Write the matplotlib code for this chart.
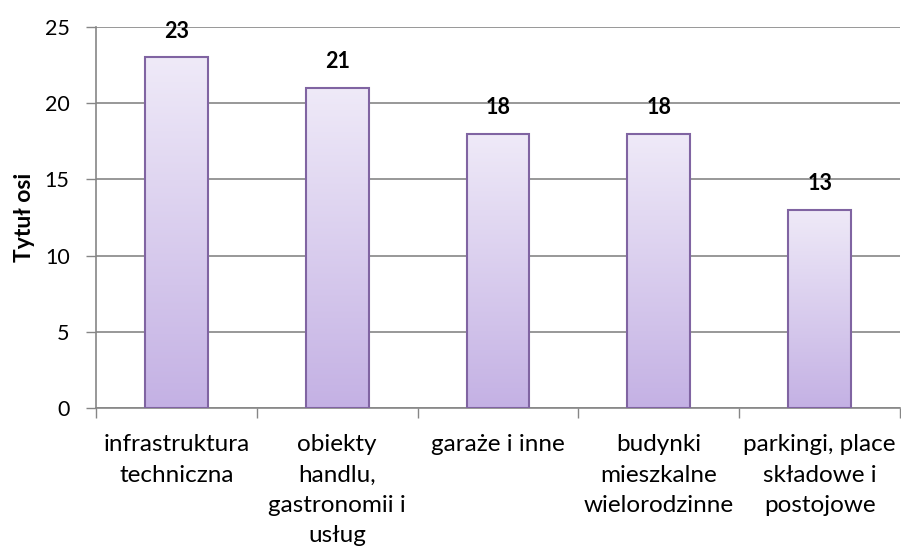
import numpy as np
import matplotlib
matplotlib.use("Agg")
import matplotlib.pyplot as plt
from matplotlib.colors import LinearSegmentedColormap

plt.rcParams["font.family"] = ["Lato", "DejaVu Sans"]

categories = ["infrastruktura\ntechniczna",
              "obiekty\nhandlu,\ngastronomii i\nusług",
              "garaże i inne",
              "budynki\nmieszkalne\nwielorodzinne",
              "parkingi, place\nskładowe i\npostojowe"]
values = [23, 21, 18, 18, 13]
y_ticks = [0, 5, 10, 15, 20, 25]

GRID = "#868686"
EDGE = "#8064A2"

fig = plt.figure(figsize=(9.01, 5.51), dpi=100)
ax = fig.add_axes([0.1065, 0.2595, 0.8925, 0.6915])

x = np.arange(len(categories))
bars = ax.bar(x, values, width=0.39, facecolor="none", edgecolor=EDGE,
              linewidth=1.5, zorder=3)

grad = LinearSegmentedColormap.from_list("g", ["#C4B1E4", "#EFEAF8"])
gimg = np.linspace(0, 1, 256).reshape(-1, 1)
for bar in bars:
    x0, w, h = bar.get_x(), bar.get_width(), bar.get_height()
    im = ax.imshow(gimg, cmap=grad, origin="lower", aspect="auto",
                   extent=[x0, x0 + w, 0, h], zorder=2)
    im.set_clip_path(bar)
    ax.text(bar.get_x() + w / 2, h + 1.3, f"{h:.0f}", ha="center", va="baseline",
            fontsize=15.5, fontweight="bold", color="black")

ax.set_xlim(-0.5, len(categories) - 0.5)
ax.set_ylim(0, 25)
ax.set_yticks(y_ticks)
ax.set_xticks(np.arange(len(categories) + 1) - 0.5, minor=True)
ax.set_xticks(x)
ax.set_xticklabels(categories, fontsize=17.5, linespacing=1.55)
ax.tick_params(axis="x", which="major", length=0, pad=19)
ax.tick_params(axis="x", which="minor", length=7, color=GRID, width=1)
ax.tick_params(axis="y", length=7, color=GRID, width=1, labelsize=15.5, pad=12)

ax.yaxis.grid(True, color=GRID, linewidth=1.2, zorder=0)
ax.set_axisbelow(True)
for s in ["top", "right"]:
    ax.spines[s].set_visible(False)
for s in ["left", "bottom"]:
    ax.spines[s].set_color(GRID)
    ax.spines[s].set_linewidth(1.2)

ax.set_ylabel("Tytuł osi", fontsize=16.5, fontweight="bold", labelpad=7)

fig.savefig("out.png", dpi=100, facecolor="white")
